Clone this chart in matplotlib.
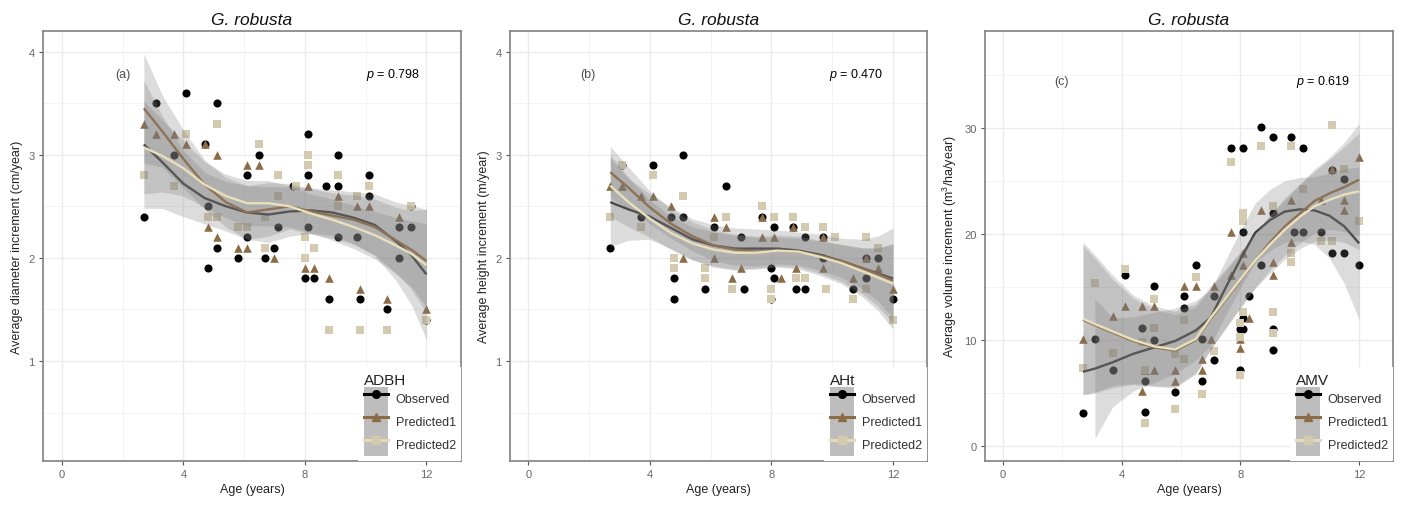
import numpy as np
import matplotlib
matplotlib.use('Agg')
import matplotlib.pyplot as plt
from matplotlib.lines import Line2D
from matplotlib.patches import Patch
from matplotlib.legend_handler import HandlerTuple

plt.rcParams['font.family'] = ['Liberation Sans', 'DejaVu Sans']
plt.rcParams['mathtext.fontset'] = 'custom'
plt.rcParams['mathtext.rm'] = 'Liberation Sans'
plt.rcParams['mathtext.it'] = 'Liberation Sans:italic'

# ---------------- data ----------------
series_names = ['Observed', 'Predicted1', 'Predicted2']
legend_titles = ['ADBH', 'AHt', 'AMV']
panel_tags = ['(a)', '(b)', '(c)']
p_values = ['0.798', '0.470', '0.619']
titles = ['G. robusta', 'G. robusta', 'G. robusta']
ylabels = ['Average diameter increment (cm/year)',
           'Average height increment (m/year)',
           'Average volume increment (m$^3$/ha/year)']
xlabel = 'Age (years)'
x_ticks = [0, 4, 8, 12]
y_ticks_ab = [1, 2, 3, 4]
y_ticks_c = [0, 10, 20, 30]

# Panel (a) points (age, ADBH)
a_obs = [(2.7, 2.4), (3.1, 3.5), (3.7, 3.0), (4.1, 3.6), (4.7, 3.1), (4.8, 2.5), (4.8, 1.9),
         (5.1, 3.5), (5.1, 2.1), (5.8, 2.0), (6.1, 2.8), (6.1, 2.2), (6.5, 3.0), (6.7, 2.0),
         (7.0, 2.1), (7.1, 2.3), (7.6, 2.7), (8.0, 1.8), (8.1, 3.2), (8.1, 2.8), (8.1, 2.3),
         (8.3, 1.8), (8.7, 2.7), (8.8, 1.6), (9.1, 3.0), (9.1, 2.7), (9.1, 2.2), (9.7, 2.2),
         (9.8, 1.6), (10.1, 2.8), (10.1, 2.6), (10.7, 1.5), (11.1, 2.3), (11.1, 2.0),
         (11.5, 2.3), (11.5, 2.5), (12.0, 1.4)]
a_p1 = [(2.7, 3.3), (3.1, 3.2), (3.7, 3.2), (4.1, 3.1), (4.7, 3.1), (4.8, 2.3), (5.1, 3.0),
        (5.1, 2.2), (5.8, 2.1), (6.1, 2.9), (6.1, 2.1), (6.5, 2.9), (7.0, 2.0), (8.0, 1.9),
        (8.1, 2.7), (8.3, 1.9), (8.8, 1.8), (9.1, 2.6), (9.7, 2.5), (9.8, 1.7), (10.1, 2.5),
        (10.7, 1.6), (11.1, 2.4), (12.0, 1.5)]
a_p2 = [(2.7, 2.8), (3.7, 2.7), (4.1, 3.2), (4.8, 2.4), (5.1, 3.3), (5.1, 2.4), (5.8, 2.3),
        (6.1, 2.3), (6.5, 3.1), (6.7, 2.1), (6.7, 2.4), (7.1, 2.8), (7.1, 2.6), (7.7, 2.7),
        (8.0, 2.2), (8.0, 2.0), (8.1, 3.0), (8.1, 2.9), (8.3, 2.1), (8.8, 1.3), (9.1, 2.8),
        (9.1, 2.5), (9.7, 2.6), (9.8, 1.3), (10.1, 2.7), (10.7, 1.3), (11.5, 2.5), (12.0, 1.4)]

# Panel (b) points (age, AHt)
b_obs = [(2.7, 2.1), (3.1, 2.9), (3.7, 2.4), (4.1, 2.9), (4.7, 2.4), (4.8, 1.8), (4.8, 1.6),
         (5.1, 3.0), (5.1, 2.4), (5.8, 1.7), (6.1, 2.3), (6.5, 2.7), (7.0, 2.2), (7.1, 1.7),
         (7.7, 2.4), (8.0, 1.9), (8.0, 1.6), (8.1, 2.3), (8.1, 1.8), (8.7, 2.3), (8.8, 1.7),
         (9.1, 2.2), (9.1, 1.7), (9.7, 2.2), (9.7, 2.0), (10.7, 1.7), (11.1, 1.8), (11.1, 2.0),
         (11.5, 2.0), (12.0, 1.6)]
b_p1 = [(2.7, 2.7), (3.1, 2.7), (3.7, 2.6), (4.1, 2.6), (4.7, 2.5), (5.1, 2.0), (6.1, 2.4),
        (6.1, 2.0), (6.5, 2.3), (6.7, 1.8), (7.0, 1.9), (7.7, 2.4), (7.7, 2.2), (8.1, 2.2),
        (8.3, 1.8), (8.7, 2.3), (8.8, 1.9), (9.7, 2.2), (9.7, 1.9), (10.7, 1.8), (11.1, 2.0),
        (11.5, 1.9), (12.0, 1.7)]
b_p2 = [(2.7, 2.4), (3.1, 2.9), (3.7, 2.3), (4.1, 2.8), (4.8, 2.0), (4.8, 1.9), (5.1, 2.6),
        (5.8, 1.9), (5.8, 1.8), (6.1, 2.2), (6.5, 2.4), (6.7, 1.7), (7.7, 2.5), (8.0, 1.7),
        (8.0, 1.6), (8.1, 2.4), (8.7, 2.4), (8.8, 1.8), (9.1, 2.3), (9.1, 1.8), (9.7, 2.3),
        (9.8, 1.7), (10.1, 2.2), (10.7, 1.6), (11.1, 2.2), (11.1, 1.7), (11.5, 2.1), (12.0, 1.4)]

# Panel (c) points (age, AMV)
c_obs = [(2.7, 3.1), (3.1, 10.1), (3.7, 7.2), (4.1, 16.1), (4.7, 11.1), (4.8, 6.1), (4.8, 3.2),
         (5.1, 15.1), (5.1, 10.0), (5.8, 5.1), (6.1, 14.1), (6.1, 13.0), (6.5, 17.1),
         (6.7, 10.1), (6.7, 6.1), (7.1, 14.1), (7.1, 8.1), (7.7, 28.1), (8.0, 11.0), (8.0, 7.2),
         (8.1, 28.1), (8.1, 20.2), (8.1, 12.1), (8.1, 11.0), (8.3, 14.1), (8.7, 30.1),
         (8.7, 17.1), (9.1, 29.1), (9.1, 22.0), (9.1, 11.0), (9.1, 9.1), (9.7, 29.1),
         (9.8, 20.2), (10.1, 28.1), (10.1, 20.2), (10.7, 20.2), (11.1, 26.0), (11.1, 18.2),
         (11.5, 25.2), (11.5, 18.2), (12.0, 17.1)]
c_p1 = [(2.7, 10.1), (3.7, 12.3), (4.1, 13.2), (4.7, 13.2), (4.7, 5.2), (4.8, 7.2), (5.1, 13.2),
        (5.1, 7.2), (5.8, 7.2), (5.8, 6.1), (6.1, 15.1), (6.5, 15.1), (6.7, 8.2), (6.7, 7.2),
        (7.0, 10.1), (7.1, 15.1), (7.7, 20.2), (7.7, 16.1), (8.0, 10.1), (8.0, 9.2), (8.1, 18.2),
        (8.1, 17.1), (8.3, 12.1), (8.7, 22.2), (9.1, 16.1), (9.1, 17.3), (9.7, 23.2),
        (9.7, 19.2), (10.7, 23.2), (11.1, 26.1), (11.5, 23.2), (11.5, 22.2), (12.0, 27.2)]
c_p2 = [(2.7, 7.4), (3.1, 15.4), (3.7, 8.8), (4.1, 16.7), (4.7, 9.8), (4.8, 7.2), (4.8, 2.2),
        (5.1, 13.9), (5.1, 11.1), (5.8, 8.7), (5.8, 3.5), (6.1, 11.9), (6.1, 8.2), (6.5, 15.9),
        (6.7, 4.9), (7.1, 9.0), (7.7, 26.8), (8.0, 11.6), (8.0, 10.3), (8.0, 6.7), (8.1, 22.0),
        (8.1, 21.2), (8.1, 12.6), (8.7, 28.3), (9.1, 22.6), (9.1, 12.6), (9.1, 10.7),
        (9.7, 28.3), (9.7, 18.2), (9.7, 17.3), (10.1, 24.2), (10.7, 19.3), (11.1, 30.2),
        (11.1, 19.3), (11.5, 26.1), (12.0, 21.2)]

# Smoothed (loess) fits and their half-band widths
ab_knots = [2.7, 3.3, 4.0, 4.7, 5.4, 6.1, 6.8, 7.5, 8.2, 8.9, 9.6, 10.3, 11.0, 11.5, 12.0]
a_fit_obs = [3.10, 2.93, 2.72, 2.58, 2.50, 2.44, 2.42, 2.45, 2.46, 2.44, 2.39, 2.32, 2.16, 2.03, 1.84]
a_se_obs = [0.62, 0.45, 0.32, 0.25, 0.24, 0.26, 0.27, 0.24, 0.22, 0.22, 0.25, 0.30, 0.38, 0.48, 0.63]
a_fit_p1 = [3.45, 3.23, 2.96, 2.71, 2.54, 2.44, 2.47, 2.50, 2.45, 2.41, 2.37, 2.30, 2.17, 2.08, 1.97]
a_se_p1 = [0.53, 0.35, 0.28, 0.24, 0.24, 0.26, 0.26, 0.22, 0.22, 0.22, 0.24, 0.27, 0.32, 0.38, 0.50]
a_fit_p2 = [3.07, 2.99, 2.87, 2.71, 2.60, 2.53, 2.53, 2.50, 2.43, 2.37, 2.30, 2.22, 2.12, 2.04, 1.93]
a_se_p2 = [0.45, 0.35, 0.27, 0.22, 0.21, 0.22, 0.22, 0.20, 0.19, 0.20, 0.21, 0.23, 0.27, 0.32, 0.40]

b_fit_obs = [2.54, 2.47, 2.40, 2.29, 2.18, 2.12, 2.09, 2.09, 2.09, 2.07, 2.03, 1.97, 1.90, 1.85, 1.80]
b_se_obs = [0.43, 0.30, 0.22, 0.20, 0.20, 0.20, 0.20, 0.19, 0.18, 0.18, 0.20, 0.22, 0.28, 0.36, 0.49]
b_fit_p1 = [2.83, 2.68, 2.49, 2.33, 2.21, 2.12, 2.08, 2.06, 2.07, 2.06, 2.02, 1.97, 1.90, 1.84, 1.78]
b_se_p1 = [0.25, 0.20, 0.16, 0.14, 0.14, 0.15, 0.15, 0.14, 0.13, 0.13, 0.14, 0.16, 0.20, 0.26, 0.36]
b_fit_p2 = [2.70, 2.54, 2.38, 2.24, 2.14, 2.08, 2.05, 2.05, 2.07, 2.06, 2.01, 1.95, 1.87, 1.81, 1.75]
b_se_p2 = [0.30, 0.24, 0.18, 0.16, 0.16, 0.17, 0.17, 0.16, 0.15, 0.15, 0.16, 0.18, 0.22, 0.28, 0.38]

c_knots = [2.7, 3.1, 3.7, 4.4, 5.1, 5.8, 6.5, 7.0, 7.5, 8.0, 8.5, 9.0, 9.5, 10.0, 10.5, 11.0, 11.5, 12.0]
c_fit_obs = [7.0, 7.3, 7.9, 8.7, 9.3, 9.9, 10.9, 12.1, 14.9, 17.6, 20.1, 21.3, 22.1, 22.3, 22.2, 21.7, 20.7, 19.1]
c_se_obs = [np.nan, 6.6, 4.2, 3.5, 3.3, 3.1, 2.8, 2.6, 2.6, 2.7, 2.8, 2.9, 2.9, 3.0, 3.2, 4.0, 5.4, 7.2]
c_fit_p1 = [11.9, 11.4, 10.7, 9.9, 9.3, 9.0, 10.0, 12.0, 13.8, 15.6, 17.5, 19.2, 20.7, 21.9, 23.1, 23.8, 24.4, 25.1]
c_se_p1 = [7.0, 6.3, 5.0, 4.0, 3.6, 3.4, 3.1, 2.9, 2.7, 2.6, 2.6, 2.6, 2.7, 2.8, 3.0, 3.4, 4.2, 5.3]
c_fit_p2 = [12.0, 11.5, 10.8, 10.0, 9.4, 9.1, 10.1, 12.1, 13.9, 15.7, 17.5, 19.0, 20.4, 21.6, 22.6, 23.2, 23.7, 24.0]
c_se_p2 = [7.2, 6.5, 5.3, 4.2, 3.8, 3.6, 3.3, 3.0, 2.8, 2.6, 2.6, 2.7, 2.8, 3.0, 3.3, 3.8, 4.5, 5.5]

# ---------------- styling ----------------
point_colors = ['#000000', '#8c6b47', '#d3cab0']
line_colors = ['#3a3a3a', '#94704a', '#e9e0bb']
legend_line_colors = ['#000000', '#8c6b47', '#e3dab6']
markers = ['o', '^', 's']
marker_sizes = [34, 38, 30]
band_color = '#7a7a7a'
band_alpha = 0.26

panels = [
    dict(points=[a_obs, a_p1, a_p2], knots=ab_knots,
         fits=[a_fit_obs, a_fit_p1, a_fit_p2], ses=[a_se_obs, a_se_p1, a_se_p2],
         xlim=(-0.62, 13.14), ylim=(0.03, 4.2), yticks=y_ticks_ab,
         yminor=[0.5, 1.5, 2.5, 3.5], text_y=3.78, tag_x=2.0, p_x=10.9,
         rect=[43, 32, 461, 462]),
    dict(points=[b_obs, b_p1, b_p2], knots=ab_knots,
         fits=[b_fit_obs, b_fit_p1, b_fit_p2], ses=[b_se_obs, b_se_p1, b_se_p2],
         xlim=(-0.6, 13.12), ylim=(0.03, 4.2), yticks=y_ticks_ab,
         yminor=[0.5, 1.5, 2.5, 3.5], text_y=3.78, tag_x=1.97, p_x=10.8,
         rect=[510, 32, 927, 462]),
    dict(points=[c_obs, c_p1, c_p2], knots=c_knots,
         fits=[c_fit_obs, c_fit_p1, c_fit_p2], ses=[c_se_obs, c_se_p1, c_se_p2],
         xlim=(-0.6, 13.14), ylim=(-1.4, 39.1), yticks=y_ticks_c,
         yminor=[5, 15, 25, 35], text_y=34.4, tag_x=1.98, p_x=10.8,
         rect=[985, 32, 1393, 462]),
]

W, H = 1402, 506
fig = plt.figure(figsize=(W / 100, H / 100), dpi=100)

for i, pan in enumerate(panels):
    l, t, r, b = pan['rect']
    ax = fig.add_axes([l / W, 1 - b / H, (r - l) / W, (b - t) / H])
    ax.set_xlim(*pan['xlim'])
    ax.set_ylim(*pan['ylim'])
    ax.set_xticks(x_ticks)
    ax.set_xticks([2, 6, 10], minor=True)
    ax.set_yticks(pan['yticks'])
    ax.set_yticks(pan['yminor'], minor=True)
    ax.grid(which='major', color='#ebebeb', lw=1.0, zorder=0)
    ax.grid(which='minor', color='#f3f3f3', lw=0.7, zorder=0)
    ax.set_axisbelow(True)
    for sp in ax.spines.values():
        sp.set_color('#808080')
        sp.set_linewidth(1.2)
    ax.tick_params(which='major', length=3, width=0.8, color='#555555',
                   labelcolor='#666666', labelsize=8, pad=3)
    ax.tick_params(which='minor', length=0)

    # points
    for j in range(3):
        pts = np.array(pan['points'][j])
        ax.scatter(pts[:, 0], pts[:, 1], marker=markers[j], s=marker_sizes[j],
                   c=point_colors[j], linewidths=0, zorder=2)
    # smooths (band then line, per series)
    k = np.array(pan['knots'])
    for j in range(3):
        f = np.array(pan['fits'][j], dtype=float)
        se = np.array(pan['ses'][j], dtype=float)
        ok = ~np.isnan(se)
        ax.fill_between(k[ok], f[ok] - se[ok], f[ok] + se[ok], color=band_color,
                        alpha=band_alpha, lw=0, zorder=3 + 2 * j)
        ax.plot(k, f, color=line_colors[j], lw=1.7, zorder=4 + 2 * j,
                solid_capstyle='butt')

    ax.set_title(titles[i], fontsize=12.5, style='italic', pad=5, color='#111111')
    ax.set_xlabel(xlabel, fontsize=9, color='#222222', labelpad=3)
    ax.set_ylabel(ylabels[i], fontsize=9, color='#222222', labelpad=4)

    ax.text(pan['tag_x'], pan['text_y'], panel_tags[i], ha='center', va='center',
            fontsize=9, color='#4d4d4d', zorder=12)
    ax.text(pan['p_x'], pan['text_y'], '$p$ = ' + p_values[i], ha='center',
            va='center', fontsize=9, color='#000000', zorder=12)

    handles = []
    for j in range(3):
        handles.append((Patch(facecolor='#bdbdbd', edgecolor='none'),
                        Line2D([0], [0], color=legend_line_colors[j], lw=2.2,
                               marker=markers[j], markersize=5.5,
                               markerfacecolor=point_colors[j],
                               markeredgecolor=point_colors[j])))
    leg = ax.legend(handles, series_names,
                    handler_map={tuple: HandlerTuple(ndivide=1, pad=0)},
                    loc='lower right', bbox_to_anchor=(1.0, 0.0),
                    borderaxespad=0.0, borderpad=0.42, frameon=True,
                    facecolor='white', edgecolor='none', framealpha=1.0,
                    fancybox=False, numpoints=1, fontsize=9,
                    title=legend_titles[i], title_fontsize=11,
                    alignment='left', handlelength=1.92, handleheight=2.46,
                    handletextpad=0.65, labelspacing=0.0)
    leg.set_zorder(20)
    leg.get_title().set_color('#222222')
    for txt in leg.get_texts():
        txt.set_color('#333333')

fig.savefig('out.png', dpi=100)
